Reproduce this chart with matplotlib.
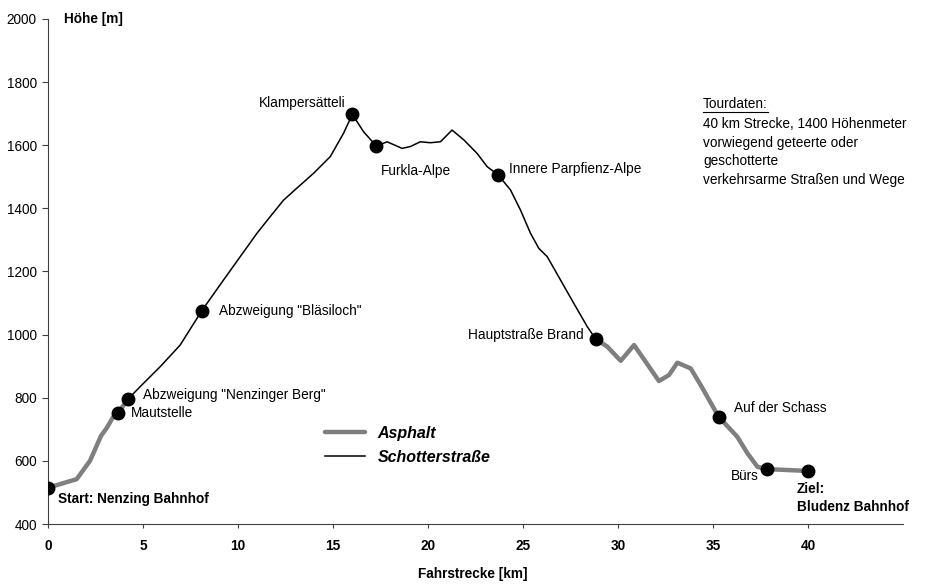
import matplotlib
matplotlib.use("Agg")
import matplotlib.pyplot as plt
from matplotlib.lines import Line2D

plt.rcParams['font.family'] = ['Liberation Sans', 'DejaVu Sans']

# Asphalt segment 1 (Start -> Abzweigung Nenzinger Berg)
asph1_km = [0.0, 1.51, 2.21, 2.79, 3.09, 3.43, 3.69, 4.22]
asph1_h = [515, 542, 600, 679, 704, 739, 752, 796]

# Schotterstraße (Nenzinger Berg -> Hauptstraße Brand)
schot_km = [4.22, 4.85, 5.90, 6.96, 8.10, 9.24, 10.12, 11.00, 11.70, 12.40,
            13.10, 13.98, 14.86, 15.56, 16.02, 16.61, 17.29, 17.85, 18.64, 19.08,
            19.60, 20.13, 20.66, 21.27, 21.89, 22.59, 23.12, 23.70, 24.35,
            24.87, 25.40, 25.84, 26.28, 26.98, 27.68, 28.39, 28.83]
schot_h = [796, 835, 898, 967, 1076, 1173, 1247, 1321, 1374, 1426,
           1464, 1511, 1564, 1638, 1698, 1643, 1597, 1611, 1590, 1596,
           1611, 1608, 1611, 1648, 1617, 1574, 1532, 1506, 1458,
           1395, 1321, 1273, 1247, 1173, 1099, 1025, 986]

# Asphalt segment 2 (Hauptstraße Brand -> Ziel)
asph2_km = [28.83, 29.44, 30.15, 30.85, 31.46, 32.16, 32.69, 33.13, 33.83,
            34.36, 35.30, 36.29, 36.82, 37.35, 37.84, 40.0]
asph2_h = [986, 962, 917, 967, 914, 853, 872, 911, 893,
           840, 740, 676, 624, 581, 574, 568]

# Waypoints
wp_names = ['Start: Nenzing Bahnhof', 'Mautstelle', 'Abzweigung "Nenzinger Berg"',
            'Abzweigung "Bläsiloch"', 'Klampersätteli', 'Furkla-Alpe',
            'Innere Parpfienz-Alpe', 'Hauptstraße Brand', 'Auf der Schass',
            'Bürs', 'Ziel:\nBludenz Bahnhof']
wp_km = [0.0, 3.69, 4.22, 8.10, 16.02, 17.29, 23.70, 28.83, 35.30, 37.84, 40.0]
wp_h = [515, 752, 796, 1076, 1698, 1597, 1506, 986, 740, 574, 568]

x_ticks = [0, 5, 10, 15, 20, 25, 30, 35, 40]
y_ticks = [400, 600, 800, 1000, 1200, 1400, 1600, 1800, 2000]

tour_title = 'Tourdaten:'
tour_lines = ['40 km Strecke, 1400 Höhenmeter', 'vorwiegend geteerte oder',
              'geschotterte', 'verkehrsarme Straßen und Wege']

fig = plt.figure(figsize=(9.26, 5.86), dpi=100)
ax = fig.add_axes([0.0518, 0.1058, 0.9232, 0.8618])

gray = '#7f7f7f'
ax.plot(asph1_km, asph1_h, color=gray, lw=3.2, solid_capstyle='round', zorder=2, label='Asphalt')
ax.plot(asph2_km, asph2_h, color=gray, lw=3.2, solid_capstyle='round', zorder=2)
ax.plot(schot_km, schot_h, color='black', lw=1.1, zorder=3, label='Schotterstraße')
ax.plot(wp_km, wp_h, 'o', color='black', ms=9, zorder=4)

fs = 9.8
# label offsets (points) and alignment
offs = [(7, -8, 'left', 'center', 'bold'),
        (9, 0, 'left', 'center', 'normal'),
        (11, 3, 'left', 'center', 'normal'),
        (12, 0, 'left', 'center', 'normal'),
        (-5, 8, 'right', 'center', 'normal'),
        (3, -18, 'left', 'center', 'normal'),
        (8, 4, 'left', 'center', 'normal'),
        (-9, 3, 'right', 'center', 'normal'),
        (11, 6, 'left', 'center', 'normal'),
        (-6, -5, 'right', 'center', 'normal'),
        (-8, -8, 'left', 'top', 'bold')]
for name, xk, yh, (dx, dy, ha, va, fw) in zip(wp_names, wp_km, wp_h, offs):
    ax.annotate(name, (xk, yh), xytext=(dx, dy), textcoords='offset points',
                ha=ha, va=va, fontsize=fs, fontweight=fw, linespacing=1.33)

ax.set_xlim(0, 45)
ax.set_ylim(400, 2000)
ax.set_xticks(x_ticks)
ax.set_yticks(y_ticks)
ax.tick_params(axis='x', labelsize=fs, length=3, direction='out', pad=8)
ax.tick_params(axis='y', labelsize=fs, length=4, direction='out', pad=4)
for lab in ax.get_xticklabels():
    lab.set_fontweight('bold')
for s in ['top', 'right']:
    ax.spines[s].set_visible(False)
for s in ['left', 'bottom']:
    ax.spines[s].set_color('#404040')
ax.tick_params(colors='#404040', labelcolor='black')

fig.text(64 / 926, 1 - 19 / 586, 'Höhe [m]', fontsize=fs, fontweight='bold', ha='left', va='center')
fig.text(473 / 926, 1 - 574 / 586, 'Fahrstrecke [km]', fontsize=fs, fontweight='bold', ha='center', va='center')

# Tourdaten
tx = 703 / 926
t1 = fig.text(tx, 1 - 104 / 586, tour_title, fontsize=fs, ha='left', va='center')
fig.canvas.draw()
bb = t1.get_window_extent()
fig.add_artist(Line2D([bb.x0 / 926, bb.x1 / 926], [1 - 112 / 586, 1 - 112 / 586], color='black', lw=0.8))
for i, line in enumerate(tour_lines):
    fig.text(tx, 1 - (124 + i * 18.5) / 586, line, fontsize=fs, ha='left', va='center')

leg = ax.legend(loc='upper left', bbox_to_anchor=(0.324, 0.194), frameon=False,
                borderpad=0, borderaxespad=0,
                handlelength=2.5, handletextpad=0.8, labelspacing=0.55,
                prop={'size': 11.5, 'weight': 'bold', 'style': 'italic'})

fig.savefig('out.png', dpi=100, facecolor='white')
